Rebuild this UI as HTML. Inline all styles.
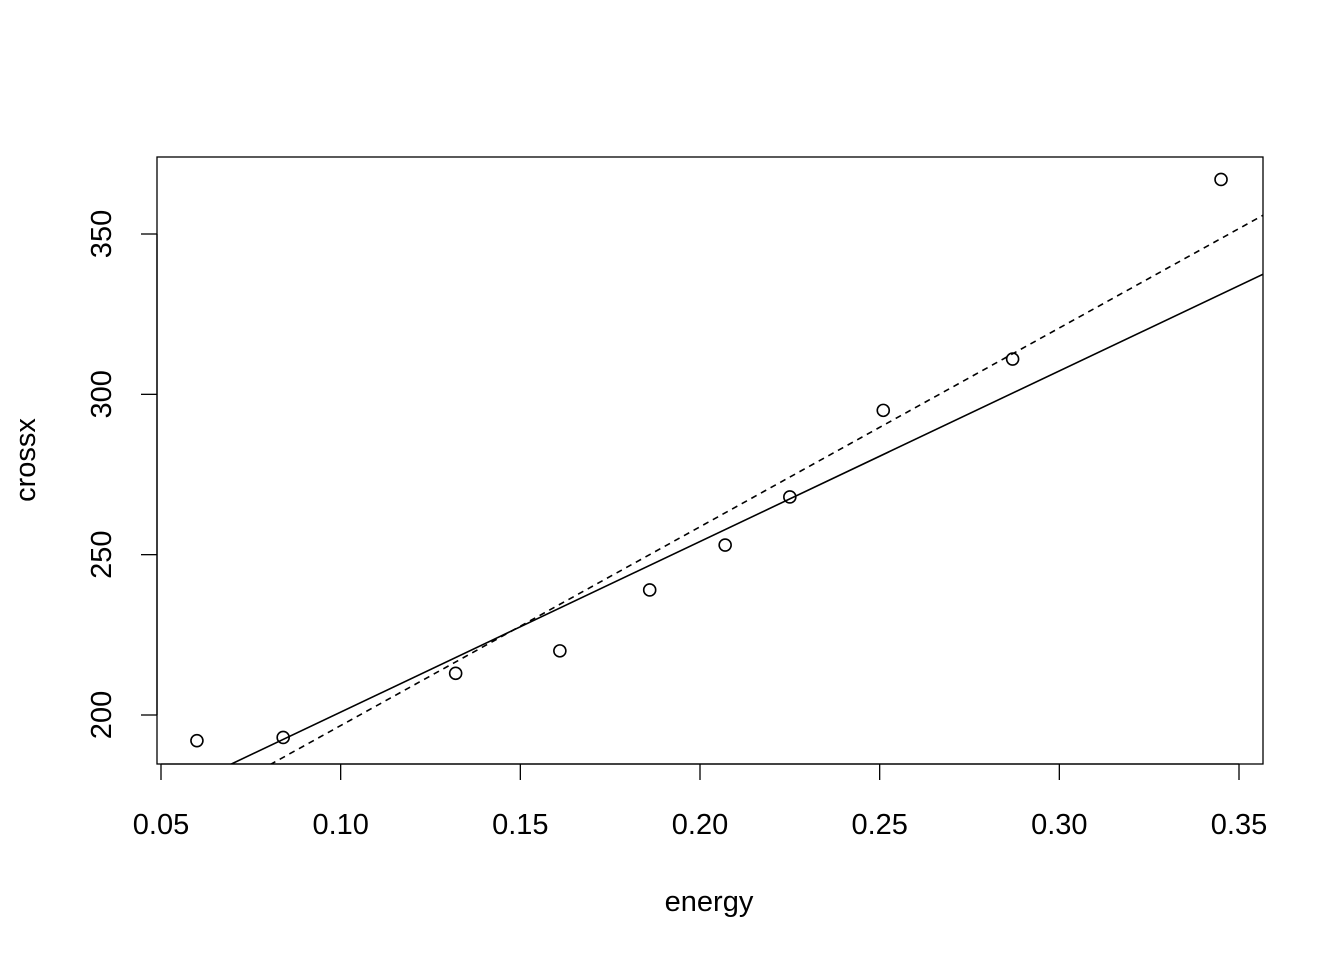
<!DOCTYPE html>
<html><head><meta charset="utf-8">
<style>
html,body{margin:0;padding:0;background:#fff;}
svg{display:block;font-family:"Liberation Sans",Arial,sans-serif;}
</style></head>
<body>
<svg id="chart" width="1344" height="960" viewBox="0 0 1344 960">
  <defs><clipPath id="clip"><rect x="157" y="157" width="1106" height="607"/></clipPath></defs>
  <rect x="157" y="157" width="1106" height="607" fill="none" stroke="#000" stroke-width="1.3"/>
  <g id="xaxis"></g>
  <g id="yaxis"></g>
  <g id="lines" clip-path="url(#clip)"></g>
  <g id="points"></g>
  <text x="709" y="911" font-size="29" text-anchor="middle">energy</text>
  <text transform="translate(35,460) rotate(-90)" font-size="29" text-anchor="middle">crossx</text>
</svg>
<script>
const xTicks = [0.05, 0.10, 0.15, 0.20, 0.25, 0.30, 0.35];
const xTickLabels = ["0.05","0.10","0.15","0.20","0.25","0.30","0.35"];
const yTicks = [200, 250, 300, 350];
const yTickLabels = ["200","250","300","350"];
const energy = [0.060, 0.084, 0.132, 0.161, 0.186, 0.207, 0.225, 0.251, 0.287, 0.345];
const crossx = [192, 193, 213, 220, 239, 253, 268, 295, 311, 367];
const solidFit = [147.7, 532];
const dashedFit = [134.7, 620];

const NS = "http://www.w3.org/2000/svg";
function X(v){ return 161 + (v - 0.05) / 0.3 * 1078; }
function Y(v){ return 715 - (v - 200) * (481 / 150); }
function mk(tag, attrs, parent){ const e=document.createElementNS(NS,tag); for(const k in attrs) e.setAttribute(k,attrs[k]); parent.appendChild(e); return e; }

const xa=document.getElementById("xaxis");
let l=mk("line",{x1:X(xTicks[0]),x2:X(xTicks[xTicks.length-1]),y1:764,y2:764,stroke:"#000","stroke-width":1.3},xa);


xTicks.forEach((t,i)=>{
  const tk=mk("line",{x1:X(t),x2:X(t),y1:764,y2:780,stroke:"#000","stroke-width":1.3},xa);
  
  
  const tx=mk("text",{x:X(t),y:834,"font-size":29,"text-anchor":"middle"},xa);
  tx.textContent=xTickLabels[i];
  
  
});
const ya=document.getElementById("yaxis");
l=mk("line",{x1:157,x2:157,y1:Y(yTicks[0]),y2:Y(yTicks[yTicks.length-1]),stroke:"#000","stroke-width":1.3},ya);


yTicks.forEach((t,i)=>{
  const tk=mk("line",{x1:141,x2:157,y1:Y(t),y2:Y(t),stroke:"#000","stroke-width":1.3},ya);
  
  
  const tx=mk("text",{transform:`translate(111,${Y(t)}) rotate(-90)`,"font-size":29,"text-anchor":"middle"},ya);
  tx.textContent=yTickLabels[i];
  
  
});
const lg=document.getElementById("lines");
function fitLine(f,dash,name){
  const x0=0.0,x1=0.4;
  const ln=mk("line",{x1:X(x0),y1:Y(f[0]+f[1]*x0),x2:X(x1),y2:Y(f[0]+f[1]*x1),stroke:"#000","stroke-width":1.6},lg);
  if(dash) ln.setAttribute("stroke-dasharray","6,5");
  
  
}
fitLine(solidFit,false,'solid-fit-line');
fitLine(dashedFit,true,'dashed-fit-line');
const pg=document.getElementById("points");
energy.forEach((e,i)=>{
  const c=mk("circle",{cx:X(e),cy:Y(crossx[i]),r:6,fill:"none",stroke:"#000","stroke-width":1.6},pg);
  
  
});
</script>
</body></html>
